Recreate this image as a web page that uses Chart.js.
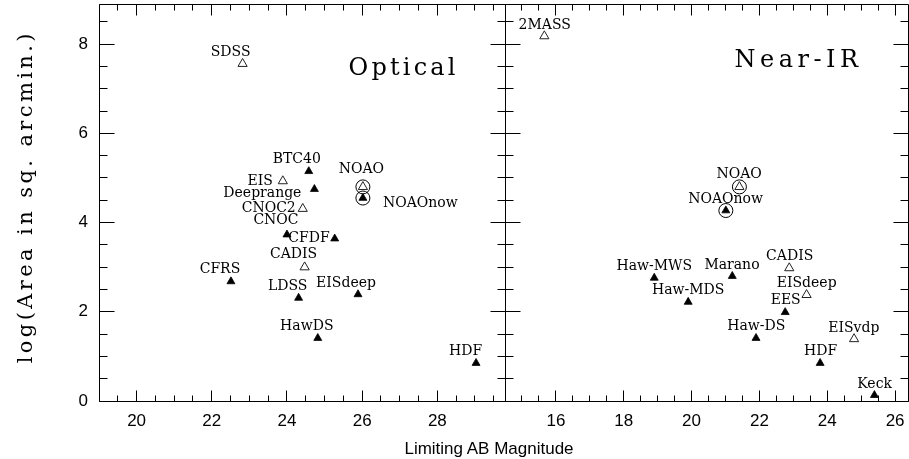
<!DOCTYPE html>
<html><head><meta charset="utf-8">
<script src="https://cdn.jsdelivr.net/npm/chart.js@4.4.1/dist/chart.umd.min.js"></script>
<style>
html,body{margin:0;padding:0;background:#fff;}
#wrap{position:relative;width:909px;height:459px;overflow:hidden;background:#fff;}
canvas{position:absolute;top:0;}
#xt{position:absolute;left:339px;top:440px;width:300px;text-align:center;font:17px/17px "Liberation Sans",Arial,sans-serif;color:#000;white-space:nowrap;}
</style></head><body>
<div id="wrap">
<canvas id="cOpt" width="506" height="459" style="left:0;width:506px;height:459px"></canvas>
<canvas id="cNir" width="404" height="459" style="left:505px;width:404px;height:459px"></canvas>
<div id="xt">Limiting AB Magnitude</div>
</div>
<script>
// ---- data ----
const opticalNames = ['SDSS','BTC40','EIS','Deeprange','CNOC2','CNOC','NOAO','NOAOnow','CFDF','CADIS','CFRS','LDSS','EISdeep','HawDS','HDF'];
const opticalMag = [22.82, 24.58, 23.89, 24.73, 24.42, 24.00, 26.02, 26.02, 25.27, 24.47, 22.51, 24.31, 25.89, 24.82, 29.03];
const opticalLogArea = [7.56, 5.15, 4.93, 4.75, 4.31, 3.73, 4.80, 4.55, 3.64, 3.00, 2.68, 2.31, 2.39, 1.41, 0.85];
const opticalPlanned = [true, false, true, false, true, false, true, false, false, true, false, false, false, false, false];
const opticalCircled = ['NOAO', 'NOAOnow'];

const nirNames = ['2MASS','NOAO','NOAOnow','Haw-MWS','Marano','CADIS','Haw-MDS','EISdeep','EES','Haw-DS','EISvdp','HDF','Keck'];
const nirMag = [15.66, 21.41, 21.01, 18.90, 21.20, 22.88, 19.90, 23.39, 22.76, 21.90, 24.79, 23.79, 25.39];
const nirLogArea = [8.18, 4.80, 4.27, 2.76, 2.80, 2.98, 2.22, 2.38, 1.99, 1.41, 1.39, 0.85, 0.13];
const nirPlanned = [true, true, false, false, false, true, false, true, false, false, true, false, false];
const nirCircled = ['NOAO', 'NOAOnow'];

const yTickLabels = [0, 2, 4, 6, 8];
const opticalTickLabels = [20, 22, 24, 26, 28];
const nirTickLabels = [16, 18, 20, 22, 24, 26];

// ---- label placement (style only): [align, dx, dy] ----
const opticalLabelPlace = {
  SDSS:['center',-12,-12.5], BTC40:['center',-12,-13], EIS:['right',-10,-1], Deeprange:['right',-13,3],
  CNOC2:['right',-7,-2], CNOC:['center',-11,-16], NOAO:['center',-1.5,-18.5], NOAOnow:['left',20,4],
  CFDF:['right',-5,-2], CADIS:['center',-11,-14], CFRS:['center',-11,-13.5], LDSS:['center',-11,-13],
  EISdeep:['center',-12,-12.5], HawDS:['center',-11,-13], HDF:['center',-10.5,-13]
};
const nirLabelPlace = {
  '2MASS':['center',0.4,-12.3], NOAO:['center',-0.3,-13.6], NOAOnow:['center',-0.2,-12.9],
  'Haw-MWS':['center',0,-13], Marano:['center',-0.3,-12.3], CADIS:['center',0.4,-13.6],
  'Haw-MDS':['center',0,-13], EISdeep:['center',0.1,-12.9], EES:['center',0.5,-13],
  'Haw-DS':['center',0.3,-13], EISvdp:['center',-0.2,-12.3], HDF:['center',0.5,-13], Keck:['center',0.2,-12.6]
};

const SANS = '"Liberation Sans", Arial, sans-serif';
const SERIF = '"DejaVu Serif", serif';

function pix(p){ return Math.round(p - 0.5) + 0.5; }

const framePlugin = {
  id: 'frame',
  afterDraw(chart) {
    const ctx = chart.ctx, a = chart.chartArea, xs = chart.scales.x, ys = chart.scales.y;
    const L = Math.floor(a.left) + 0.5, R = Math.floor(a.right) + 0.5;
    const T = Math.floor(a.top) + 0.5, B = Math.floor(a.bottom) + 0.5;
    ctx.save();
    ctx.strokeStyle = '#000';
    ctx.lineWidth = 1;
    ctx.beginPath();
    ctx.rect(L, T, R - L, B - T);
    for (let v = Math.ceil(xs.min * 2) / 2; v <= xs.max + 1e-9; v += 0.5) {
      const p = pix(xs.getPixelForValue(v));
      const len = Math.abs(v % 2) < 1e-9 ? 11 : 6;
      ctx.moveTo(p, B); ctx.lineTo(p, B - len);
      ctx.moveTo(p, T); ctx.lineTo(p, T + len);
    }
    for (let v = Math.ceil(ys.min * 2) / 2; v <= ys.max + 1e-9; v += 0.5) {
      const p = pix(ys.getPixelForValue(v));
      const len = Math.abs(v % 2) < 1e-9 ? 15 : 8;
      ctx.moveTo(L, p); ctx.lineTo(L + len, p);
      ctx.moveTo(R, p); ctx.lineTo(R - len, p);
    }
    ctx.stroke();
    ctx.restore();
  }
};

const labelPlugin = {
  id: 'pointLabels',
  afterDatasetsDraw(chart, args, opts) {
    const ctx = chart.ctx, xs = chart.scales.x, ys = chart.scales.y;
    ctx.save();
    ctx.fillStyle = '#000';
    ctx.font = '14px ' + SERIF;
    ctx.textBaseline = 'alphabetic';
    opts.names.forEach((n, i) => {
      const pl = opts.place[n] || ['center', 0, -13];
      const px = xs.getPixelForValue(opts.mags[i]);
      const py = ys.getPixelForValue(opts.areas[i]);
      ctx.textAlign = pl[0];
      ctx.fillText(n, px + pl[1], py + pl[2] + 5.1);
    });
    if (opts.title) {
      ctx.font = '24px ' + SERIF;
      ctx.textAlign = 'left';
      ctx.letterSpacing = opts.title.ls + 'px';
      ctx.fillText(opts.title.text, opts.title.x, opts.title.y);
      ctx.letterSpacing = '0px';
    }
    if (opts.yTitle) {
      ctx.translate(31.7, 196.7);
      ctx.rotate(-Math.PI / 2);
      ctx.font = '21px ' + SERIF;
      ctx.textAlign = 'center';
      ctx.letterSpacing = '3.4px';
      ctx.fillText(opts.yTitle, 0, 0);
    }
    ctx.restore();
  }
};

function zeroPad(s) { s.paddingLeft = 0; s.paddingRight = 0; s.paddingTop = 0; s.paddingBottom = 0; }

function makeChart(id, names, mags, areas, planned, circled, xMin, xMax, xLabels, showY, place, title, yTitle) {
  const filled = [], open = [], circ = [];
  names.forEach((n, i) => {
    const p = {x: mags[i], y: areas[i]};
    (planned[i] ? open : filled).push(p);
    if (circled.includes(n)) circ.push(p);
  });
  const tickFont = {family: SANS, size: 17};
  return new Chart(document.getElementById(id), {
    type: 'scatter',
    data: {datasets: [
      {data: open, pointStyle: 'triangle', pointRadius: 5.3, pointBackgroundColor: '#fff', pointBorderColor: '#222', pointBorderWidth: 1},
      {data: filled, pointStyle: 'triangle', pointRadius: 4.6, pointBackgroundColor: '#000', pointBorderColor: '#000', pointBorderWidth: 0.8},
      {data: circ, pointStyle: 'circle', pointRadius: 7, pointBackgroundColor: 'rgba(0,0,0,0)', pointBorderColor: '#000', pointBorderWidth: 1}
    ]},
    options: {
      responsive: false, maintainAspectRatio: false, animation: false, devicePixelRatio: 1, events: [],
      layout: {autoPadding: false, padding: {left: 0, top: 4, right: 1, bottom: 0}},
      plugins: {
        legend: {display: false}, tooltip: {enabled: false},
        pointLabels: {names, mags, areas, place, title, yTitle}
      },
      scales: {
        x: {
          type: 'linear', min: xMin, max: xMax,
          grid: {display: false, drawTicks: false}, border: {display: false},
          ticks: {stepSize: 0.5, includeBounds: false, autoSkip: false, maxRotation: 0, minRotation: 0,
                  padding: 10, color: '#000', font: tickFont,
                  callback: v => xLabels.includes(v) ? String(v) : ''},
          afterFit: s => { s.height = 58; zeroPad(s); }
        },
        y: {
          type: 'linear', min: 0, max: 8.9,
          grid: {display: false, drawTicks: false}, border: {display: false},
          ticks: {stepSize: 0.5, includeBounds: false, autoSkip: false, display: showY,
                  padding: 11, color: '#000', font: tickFont,
                  callback: v => yTickLabels.includes(v) ? String(v) : ''},
          afterFit: s => { s.width = showY ? 99 : 0; zeroPad(s); }
        }
      }
    },
    plugins: [labelPlugin, framePlugin]
  });
}

makeChart('cOpt', opticalNames, opticalMag, opticalLogArea, opticalPlanned, opticalCircled,
  19, 29.8, opticalTickLabels, true, opticalLabelPlace,
  {text: 'Optical', x: 348.5, y: 74.5, ls: 3.2}, 'log(Area in sq. arcmin.)');
makeChart('cNir', nirNames, nirMag, nirLogArea, nirPlanned, nirCircled,
  14.5, 26.38, nirTickLabels, false, nirLabelPlace,
  {text: 'Near-IR', x: 229.5, y: 66.5, ls: 4.5}, null);
</script>
</body></html>
